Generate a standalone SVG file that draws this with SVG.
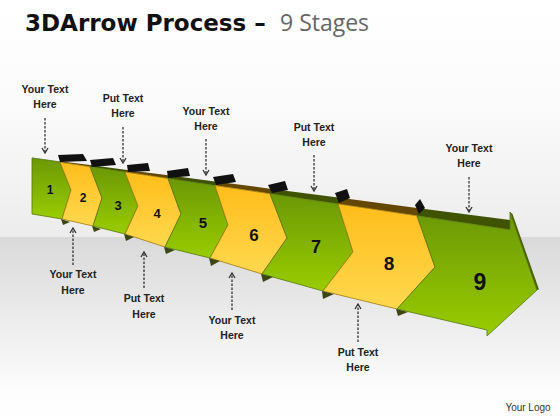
<svg xmlns="http://www.w3.org/2000/svg" width="560" height="420" viewBox="0 0 560 420">
<defs>
<linearGradient id="bgTop" x1="0" y1="0" x2="0" y2="1"><stop offset="0" stop-color="#ffffff"/><stop offset="0.45" stop-color="#fbfbfb"/><stop offset="1" stop-color="#ececec"/></linearGradient>
<linearGradient id="bgBot" x1="0" y1="0" x2="0" y2="1"><stop offset="0" stop-color="#d9d9d9"/><stop offset="0.85" stop-color="#fdfdfd"/><stop offset="1" stop-color="#ffffff"/></linearGradient>
<linearGradient id="gGreen" x1="0" y1="0" x2="0" y2="1"><stop offset="0" stop-color="#6b9806"/><stop offset="1" stop-color="#9acd00"/></linearGradient>
<linearGradient id="gYellow" x1="0" y1="0" x2="0" y2="1"><stop offset="0" stop-color="#ffbd1a"/><stop offset="1" stop-color="#ffd84f"/></linearGradient>
<marker id="ah" viewBox="0 0 8 8" refX="7" refY="4" markerWidth="8" markerHeight="8" markerUnits="userSpaceOnUse" orient="auto"><path d="M2,1 L7,4 L2,7" fill="none" stroke="#333" stroke-width="1.3"/></marker>
</defs>
<style>
.green{fill:url(#gGreen);stroke:#55760a;stroke-width:0.8;stroke-linejoin:round}
.yellow{fill:url(#gYellow);stroke:#a07a10;stroke-width:0.8;stroke-linejoin:round}
.gstrip{fill:#3f5300}
.ystrip{fill:#654800}
.tab{fill:#111}
.shade{fill:#3b4712}
.num{font-family:"Liberation Sans",Arial,sans-serif;font-weight:bold;fill:#111;text-anchor:middle}
.call{font-family:"Liberation Sans",Arial,sans-serif;font-weight:bold;font-size:10.5px;fill:#222;text-anchor:middle}
.dash{stroke:#333;stroke-width:1.3;stroke-dasharray:2.5 1.5;fill:none;marker-end:url(#ah)}
</style>
<rect x="0" y="0" width="560" height="237" fill="url(#bgTop)"/>
<rect x="0" y="237" width="560" height="183" fill="url(#bgBot)"/>

<g id="title">
<text x="25" y="31" font-family="DejaVu Sans,Verdana,sans-serif" font-weight="bold" font-size="23" fill="#111">3DArrow Process –</text>
<text x="280" y="31" font-family="Open Sans,Liberation Sans,sans-serif" font-size="23" fill="#666">9 Stages</text>
</g>

<g id="arrow-1">
<polygon class="gstrip" points="32,157.5 60,161.2 60,162.2 32,158" fill-opacity="0.5"/>
<polygon class="green" points="32,158 60,162.2 71,190 62,219 32,214"/>
<text class="num" x="50" y="194" font-size="12">1</text>
</g>
<g id="arrow-2">
<polygon class="ystrip" points="60,161.2 90,165.1 90,166.7 60,162.2"/>
<polygon class="yellow" points="60,162.2 90,166.7 102,198 93,226 62,219 71,190"/>
<polygon class="tab" points="58,155 83,154 87,161 60,162"/>
<polygon class="shade" points="61,219 70,222 63,225"/>
<text class="num" x="83" y="202" font-size="12">2</text>
</g>
<g id="arrow-3">
<polygon class="gstrip" points="90,165.1 125,169.7 125,172 90,166.7"/>
<polygon class="green" points="90,166.7 125,172 138,206 125,234 93,226 102,198"/>
<polygon class="tab" points="90,160 113,158 116,165 92,167"/>
<polygon class="shade" points="92,226 101,229 94,232"/>
<text class="num" x="118" y="210" font-size="13">3</text>
</g>
<g id="arrow-4">
<polygon class="ystrip" points="125,169.7 168,175.3 168,178.4 125,172"/>
<polygon class="yellow" points="125,172 168,178.4 181,214 165,247 125,234 138,206"/>
<polygon class="tab" points="127,165 148,163 150,171 128,172"/>
<polygon class="shade" points="124,234 134,237 126,241"/>
<text class="num" x="157" y="218" font-size="13">4</text>
</g>
<g id="arrow-5">
<polygon class="gstrip" points="168,175.3 215,181.5 215,185.5 168,178.4"/>
<polygon class="green" points="168,178.4 215,185.5 228,225 210,258 165,247 181,214"/>
<polygon class="tab" points="167,171 188,168 190,176 168,178"/>
<polygon class="shade" points="164,247 175,250 166,254"/>
<text class="num" x="203" y="228" font-size="15">5</text>
</g>
<g id="arrow-6">
<polygon class="ystrip" points="215,181.5 270,188.7 270,193.7 215,185.5"/>
<polygon class="yellow" points="215,185.5 270,193.7 287,238 262,274 210,258 228,225"/>
<polygon class="tab" points="213,177 233,174 236,182 216,185"/>
<polygon class="shade" points="209,258 220,261 211,266"/>
<text class="num" x="254" y="241" font-size="17">6</text>
</g>
<g id="arrow-7">
<polygon class="gstrip" points="270,188.7 338,197.6 338,203.9 270,193.7"/>
<polygon class="green" points="270,193.7 338,203.9 353,252 323,291 262,274 287,238"/>
<polygon class="tab" points="268,185 285,181 288,190 272,193"/>
<polygon class="shade" points="261,274 273,277 263,282"/>
<text class="num" x="316" y="253" font-size="18">7</text>
</g>
<g id="arrow-8">
<polygon class="ystrip" points="338,197.6 417,207.9 417,215.8 338,203.9"/>
<polygon class="yellow" points="338,203.9 417,215.8 435,267 397,309 323,291 353,252"/>
<polygon class="tab" points="335,193 347,189 350,198 339,203"/>
<polygon class="shade" points="322,291 334,294 323,299"/>
<text class="num" x="389" y="270" font-size="19">8</text>
</g>
<g id="arrow-9">
<polygon class="gstrip" points="417,207.9 510,220.1 510,229.7 417,215.8"/>
<polygon class="green" points="417,215.8 510,229.7 510,212 537,290 487,336 487,330 397,309 435,267"/>
<polygon points="510,212 512.5,214 539,289.5 537,290" fill="#4a6400"/>
<polygon class="tab" points="415,205 420,199 425,208 419,214"/>
<polygon class="shade" points="396,309 408,312 398,316"/>
<text class="num" x="480" y="290" font-size="23">9</text>
</g>

<g id="connectors">
<line class="dash" x1="45" y1="118" x2="45" y2="153"/>
<line class="dash" x1="123" y1="127" x2="123" y2="163"/>
<line class="dash" x1="206" y1="139" x2="206" y2="175"/>
<line class="dash" x1="314" y1="155" x2="314" y2="191"/>
<line class="dash" x1="469" y1="177" x2="469" y2="212"/>
<line class="dash" x1="73" y1="265" x2="73" y2="228"/>
<line class="dash" x1="144" y1="288" x2="144" y2="252"/>
<line class="dash" x1="232" y1="310" x2="232" y2="273"/>
<line class="dash" x1="358" y1="342" x2="358" y2="304"/>
</g>

<g id="callout-1"><text class="call" x="45" y="93">Your Text</text><text class="call" x="45" y="108">Here</text></g>
<g id="callout-2"><text class="call" x="123" y="102">Put Text</text><text class="call" x="123" y="117">Here</text></g>
<g id="callout-3"><text class="call" x="206" y="115">Your Text</text><text class="call" x="206" y="130">Here</text></g>
<g id="callout-4"><text class="call" x="314" y="131">Put Text</text><text class="call" x="314" y="146">Here</text></g>
<g id="callout-5"><text class="call" x="469" y="152">Your Text</text><text class="call" x="469" y="167">Here</text></g>
<g id="callout-6"><text class="call" x="73" y="278">Your Text</text><text class="call" x="73" y="294">Here</text></g>
<g id="callout-7"><text class="call" x="144" y="302">Put Text</text><text class="call" x="144" y="318">Here</text></g>
<g id="callout-8"><text class="call" x="232" y="324">Your Text</text><text class="call" x="232" y="339">Here</text></g>
<g id="callout-9"><text class="call" x="358" y="356">Put Text</text><text class="call" x="358" y="371">Here</text></g>

<g id="logo"><text x="528" y="411" font-family="Liberation Sans,Arial,sans-serif" font-size="10" fill="#333" text-anchor="middle">Your Logo</text></g>
</svg>
